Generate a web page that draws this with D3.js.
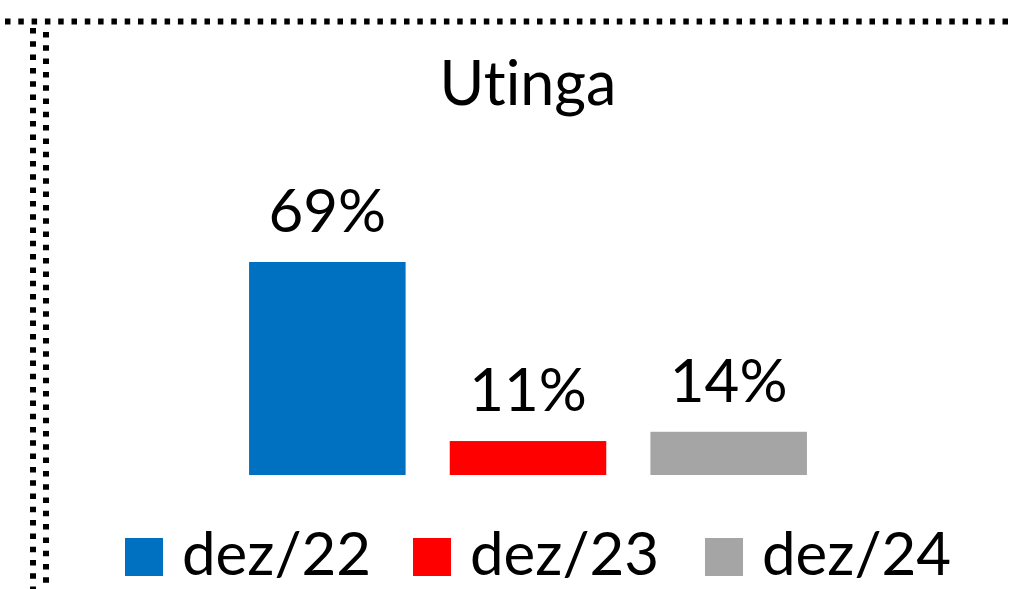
<!DOCTYPE html>
<html>
<head>
<meta charset="utf-8">
<script src="https://cdn.jsdelivr.net/npm/d3@7"></script>
<style>
  html, body { margin: 0; padding: 0; background: #fff; }
  svg { display: block; }
  text { font-family: Lato, "Open Sans", sans-serif; fill: #000; font-variant-ligatures: none; font-feature-settings: "liga" 0; }
</style>
</head>
<body>
<svg id="chart" width="1010" height="589"></svg>
<script>
const categories = ['dez/22', 'dez/23', 'dez/24']
const values = [69, 11, 14]
const colors = ['#0070C0', '#FF0000', '#A5A5A5']
const title = 'Utinga'

const width = 1010
const height = 589
const svg = d3.select('#chart')

// dotted frame (top + double left edge)
const frame = svg.append('g').attr('fill', 'none').attr('stroke', '#000')
frame.append('line')
  .attr('x1', 5).attr('x2', width).attr('y1', 21.5).attr('y2', 21.5)
  .attr('stroke-width', 6).attr('stroke-dasharray', '5.5 7.8')
frame.append('line')
  .attr('x1', 33).attr('x2', 33).attr('y1', 28).attr('y2', height)
  .attr('stroke-width', 6).attr('stroke-dasharray', '5.5 7.8')
frame.append('line')
  .attr('x1', 46).attr('x2', 46).attr('y1', 32).attr('y2', height)
  .attr('stroke-width', 6).attr('stroke-dasharray', '5.5 7.8')

const x = d3.scaleBand()
  .domain(categories)
  .range([227, 829])
  .paddingInner(0.22)
  .paddingOuter(0.11)

const y = d3.scaleLinear()
  .domain([0, 100])
  .range([475, 475 - 308.7])

svg.append('text')
  .attr('x', 528).attr('y', 105)
  .attr('text-anchor', 'middle')
  .attr('font-size', 61)
  .text(title)

const bars = svg.append('g')
bars.selectAll('rect')
  .data(values)
  .enter().append('rect')
  .attr('x', (d, i) => x(categories[i]))
  .attr('y', d => y(d))
  .attr('width', x.bandwidth())
  .attr('height', d => y(0) - y(d))
  .attr('fill', (d, i) => colors[i])

bars.selectAll('text')
  .data(values)
  .enter().append('text')
  .attr('x', (d, i) => x(categories[i]) + x.bandwidth() / 2)
  .attr('y', d => y(d) - 30)
  .attr('text-anchor', 'middle')
  .attr('font-size', 60)
  .text(d => d + '%')

// legend
const legendX = [125, 413, 705]
const legend = svg.append('g')
  .selectAll('g')
  .data(categories)
  .enter().append('g')
  .attr('transform', (d, i) => `translate(${legendX[i]}, 538)`)
legend.append('rect')
  .attr('width', 38).attr('height', 38)
  .attr('fill', (d, i) => colors[i])
legend.append('text')
  .attr('x', 57).attr('y', 37)
  .attr('font-size', 60)
  .text(d => d)
</script>
</body>
</html>
